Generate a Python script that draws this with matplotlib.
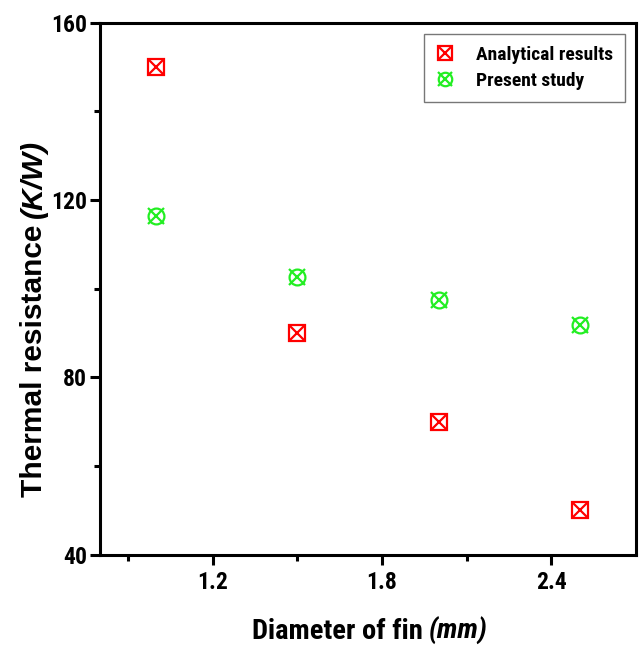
import matplotlib
matplotlib.use('Agg')
import matplotlib.pyplot as plt
from matplotlib.ticker import MultipleLocator, FixedLocator

# fin diameter (mm)
diameter = [1.0, 1.5, 2.0, 2.5]
analytical = [150, 90, 70, 50]
present = [116.3, 102.6, 97.4, 91.8]

W, H = 640, 648
plt.rcParams['font.family'] = ['Roboto Condensed', 'DejaVu Sans']
plt.rcParams['font.weight'] = 'bold'

fig = plt.figure(figsize=(W / 100, H / 100), dpi=100)
ax = fig.add_axes([0.156, 0.144, 0.838, 0.821])

ms = 12
r1, = ax.plot(diameter, analytical, ls='none', marker='s', ms=ms, mfc='none',
              mec='red', mew=1.6)
r2, = ax.plot(diameter, analytical, ls='none', marker='x', ms=ms * 0.8,
              mec='red', mew=1.6)
g1, = ax.plot(diameter, present, ls='none', marker='o', ms=ms * 0.95, mfc='none',
              mec='#22ee22', mew=1.6)
g2, = ax.plot(diameter, present, ls='none', marker='x', ms=ms * 0.95,
              mec='#22ee22', mew=1.6)

ax.set_xlim(0.8, 2.7)
ax.set_ylim(40, 160)
ax.xaxis.set_major_locator(FixedLocator([1.2, 1.8, 2.4]))
ax.xaxis.set_minor_locator(FixedLocator([0.9, 1.5, 2.1]))
ax.yaxis.set_major_locator(MultipleLocator(40))
ax.yaxis.set_minor_locator(MultipleLocator(20))

for s in ax.spines.values():
    s.set_linewidth(2.2)
ax.tick_params(which='major', direction='out', length=7, width=2.2)
ax.tick_params(which='minor', direction='out', length=4, width=2.2)
ax.tick_params(axis='both', labelsize=17)
ax.tick_params(axis='x', pad=5)
ax.tick_params(axis='y', pad=2)

leg = ax.legend([(r1, r2), (g1, g2)], ['Analytical results', 'Present study'],
                loc='upper right', bbox_to_anchor=(0.99, 0.99),
                prop={'weight': 'bold', 'size': 14},
                fancybox=False, edgecolor='#555555', borderpad=0.6,
                handlelength=1.0, handletextpad=1.1, labelspacing=0.45,
                borderaxespad=0.3, markerscale=0.85)
leg.get_frame().set_linewidth(1.0)

# axis titles: upright part + italic unit, laid along one baseline
fig.canvas.draw()
rend = fig.canvas.get_renderer()


def label_pieces(parts, x, y, vertical, family, size, center=None):
    texts = []
    for txt, style in parts:
        t = fig.text(0, 0, txt, family=family, fontsize=size, weight='bold',
                     style=style, ha='left', va='baseline',
                     rotation=90 if vertical else 0, rotation_mode='anchor')
        texts.append(t)
    gap = size * 0.3
    lens = []
    for t in texts:
        bb = t.get_window_extent(rend)
        lens.append(bb.height if vertical else bb.width)
    total = sum(lens) + gap * (len(lens) - 1)
    pos = (center - total / 2) if center is not None else (y if vertical else x)
    for t, n in zip(texts, lens):
        if vertical:
            t.set_position((x / W, pos / H))
        else:
            t.set_position((pos / W, y / H))
        pos += n + gap


label_pieces([('Diameter of fin', 'normal'), ('(mm)', 'italic')],
             0, 9, False, 'Roboto Condensed', 20.5, center=370)
label_pieces([('Thermal resistance', 'normal'), ('(K/W)', 'italic')],
             42, 151, True, 'Liberation Sans', 21.5)

fig.savefig('out.png', dpi=100)
